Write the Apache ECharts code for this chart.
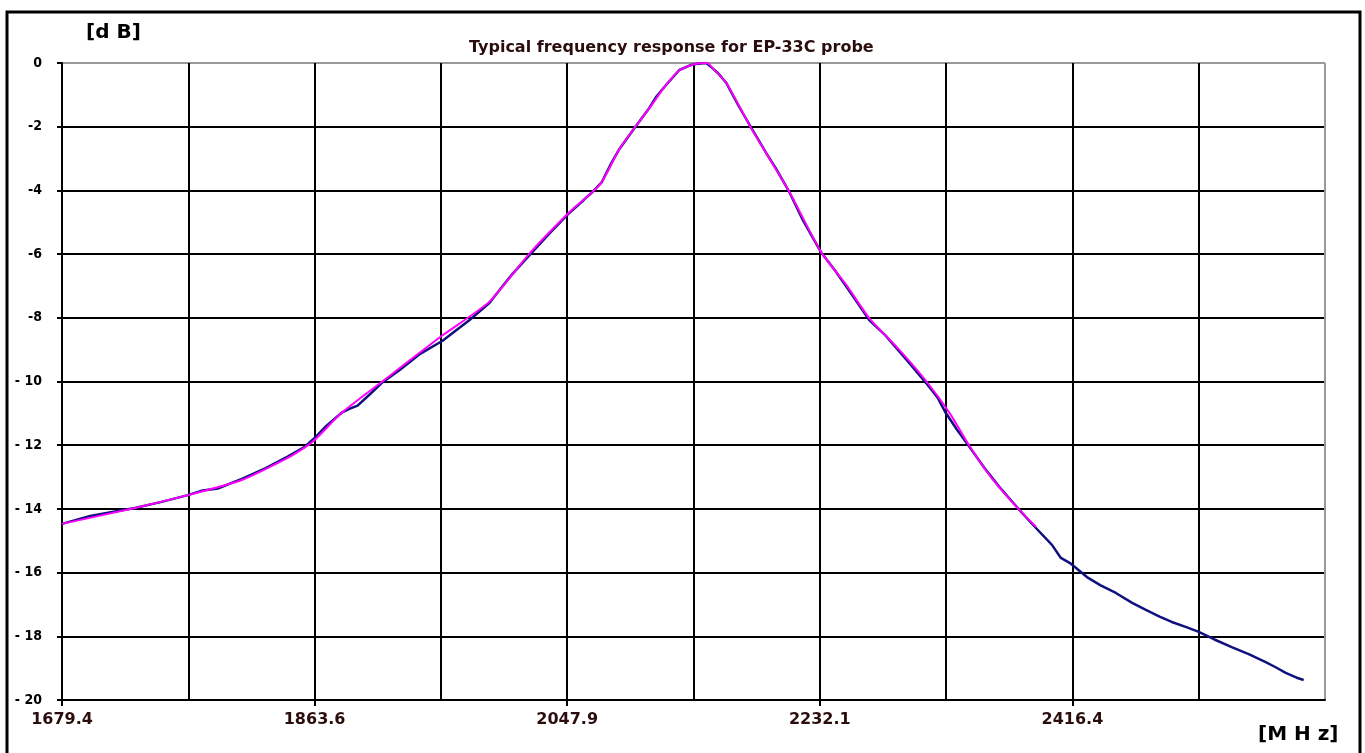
<!DOCTYPE html>
<html>
<head>
<meta charset="utf-8">
<script src="https://cdn.jsdelivr.net/npm/echarts@6/dist/echarts.min.js"></script>
<style>
html,body{margin:0;padding:0;background:#fff;}
#chart{width:1365px;height:753px;}
</style>
</head>
<body>
<div id="chart"></div>
<script>
// ---- data ----
const titleText = 'Typical frequency response for EP-33C probe';
const yUnit = '[d B]';
const xUnit = '[M H z]';

const xMin = 1679.4;
const xStep = 92.125;
const xMax = 2600.65;
const xTickValues = [1679.4, 1863.65, 2047.9, 2232.15, 2416.4];
const xTickLabels = ['1679.4', '1863.6', '2047.9', '2232.1', '2416.4'];

const yMin = -20, yMax = 0, yStep = 2;

// measured response (dark blue)
const measuredFreq = [1679.4,1700,1718,1732.6,1752,1771.9,1782,1793,1810.6,1828,1844,1856.5,1864.5,1872,1883.4,1889,1895,1904,1913.3,1925.7,1940,1957,1966,1976.7,1991.3,2000,2008,2020.4,2035,2049.6,2060,2066.3,2073,2080,2086,2097,2107.8,2113,2120,2129.7,2137,2141.4,2149.4,2153.8,2158,2164,2173,2182.2,2193.1,2200,2209.9,2220,2233.2,2243,2252,2260,2268.2,2280,2290,2300,2309.7,2318,2323.5,2332,2341,2352,2362.9,2370,2377.5,2389.8,2401.5,2408,2415.3,2427,2437,2448.1,2460,2470,2480,2488.9,2500,2508.6,2520,2532.6,2545,2557.4,2565,2572,2580,2585.1];
const measuredDb = [-14.47,-14.22,-14.08,-13.97,-13.78,-13.56,-13.42,-13.36,-13.06,-12.72,-12.36,-12.05,-11.74,-11.4,-10.98,-10.86,-10.76,-10.4,-10.02,-9.64,-9.15,-8.72,-8.42,-8.07,-7.53,-7.05,-6.62,-6.03,-5.35,-4.7,-4.3,-4.05,-3.75,-3.15,-2.7,-2.04,-1.41,-1.05,-0.69,-0.22,-0.08,-0.03,0,-0.16,-0.32,-0.63,-1.35,-2.04,-2.83,-3.3,-4.05,-4.95,-5.95,-6.5,-7.05,-7.55,-8.07,-8.55,-9.05,-9.55,-10.05,-10.5,-10.95,-11.5,-12.03,-12.7,-13.3,-13.65,-14.02,-14.6,-15.13,-15.54,-15.72,-16.14,-16.4,-16.64,-16.95,-17.17,-17.38,-17.55,-17.72,-17.86,-18.1,-18.34,-18.56,-18.81,-18.98,-19.15,-19.3,-19.37];

// fitted response (magenta)
const fitFreq = [1679.4,1732.6,1771.9,1810,1844,1862,1883,1913,1957,1991,2020,2049.6,2072,2086,2097,2108,2120,2130,2141,2150,2154,2164,2182,2193,2210,2233,2252,2268,2290,2310,2327,2341,2357,2377,2390];
const fitDb = [-14.47,-13.97,-13.56,-13.1,-12.4,-11.9,-11.0,-10.0,-8.55,-7.5,-6.0,-4.68,-3.8,-2.7,-2.04,-1.41,-0.69,-0.22,-0.03,0,-0.16,-0.63,-2.04,-2.83,-4.05,-5.93,-7.0,-8.0,-9.0,-10.0,-11.0,-12.0,-13.0,-14.0,-14.57];

// ---- chart ----
const zip = (a, b) => a.map((v, i) => [v, b[i]]);
const chart = echarts.init(document.getElementById('chart'), null, {renderer: 'canvas'});

const xLineColors = [];
for (let i = 0; i <= 10; i++) xLineColors.push(i === 10 ? '#999999' : '#000000');
const yLineColors = [];
for (let i = 0; i <= 10; i++) yLineColors.push(i === 10 ? '#999999' : '#000000');

chart.setOption({
  backgroundColor: '#ffffff',
  animation: false,
  title: {
    text: titleText,
    left: 464,
    top: 35,
    textStyle: {color: '#2b0d0d', fontSize: 16, fontWeight: 'bold', fontFamily: 'DejaVu Sans', letterSpacing: 0.4}
  },
  grid: {left: 62, right: 40, top: 63, bottom: 53, show: false},
  xAxis: [
    {
      // grid lines
      type: 'value',
      min: xMin, max: xMax, interval: xStep,
      axisLine: {show: false},
      axisTick: {show: false},
      axisLabel: {show: false},
      splitLine: {show: true, lineStyle: {color: xLineColors, width: 2}}
    },
    {
      // axis line, ticks and labels
      type: 'value', position: 'bottom',
      min: xMin, max: xMax, interval: xStep,
      axisLine: {show: true, onZero: false, lineStyle: {color: '#000', width: 2}},
      axisTick: {show: true, length: 6, lineStyle: {color: '#000', width: 2}, customValues: xTickValues},
      axisLabel: {
        show: true, margin: 12, color: '#2b0d0d', fontSize: 16, fontWeight: 'bold', fontFamily: 'DejaVu Sans',
        customValues: xTickValues,
        formatter: function (v) {
          let best = 0;
          for (let i = 1; i < xTickValues.length; i++) if (Math.abs(xTickValues[i] - v) < Math.abs(xTickValues[best] - v)) best = i;
          return xTickLabels[best];
        }
      },
      splitLine: {show: false}
    }
  ],
  yAxis: {
    type: 'value',
    min: yMin, max: yMax, interval: yStep,
    axisLine: {show: true, lineStyle: {color: '#000', width: 2}},
    axisTick: {show: true, length: 5, lineStyle: {color: '#000', width: 2}},
    axisLabel: {
      margin: 20, color: '#000', fontSize: 14, fontWeight: 'bold', fontFamily: 'DejaVu Sans Condensed',
      formatter: function (v) {
        const a = Math.abs(v);
        if (v === 0) return '0';
        return a >= 10 ? '- ' + a : '-' + a;
      }
    },
    splitLine: {show: true, lineStyle: {color: yLineColors, width: 2}}
  },
  graphic: [
    {type: 'rect', silent: true, z: -1, shape: {x: 7, y: 12, width: 1353, height: 760},
      style: {fill: 'none', stroke: '#000', lineWidth: 3}},
    {type: 'text', left: 86, top: 23, style: {text: yUnit, fill: '#000', fontSize: 20, fontFamily: 'DejaVu Sans', fontWeight: 'bold', letterSpacing: 2}},
    {type: 'text', left: 1258, top: 725, style: {text: xUnit, fill: '#000', fontSize: 20, fontFamily: 'DejaVu Sans', fontWeight: 'bold', letterSpacing: 1.5}}
  ],
  series: [
    {type: 'line', name: 'measured', xAxisIndex: 0, data: zip(measuredFreq, measuredDb), showSymbol: false, z: 3,
      lineStyle: {color: '#101080', width: 2.5}, itemStyle: {color: '#101080'}},
    {type: 'line', name: 'fit', xAxisIndex: 0, data: zip(fitFreq, fitDb), showSymbol: false, z: 4, smooth: 0.2,
      lineStyle: {color: '#ff00ff', width: 2}, itemStyle: {color: '#ff00ff'}}
  ]
});
</script>
</body>
</html>
